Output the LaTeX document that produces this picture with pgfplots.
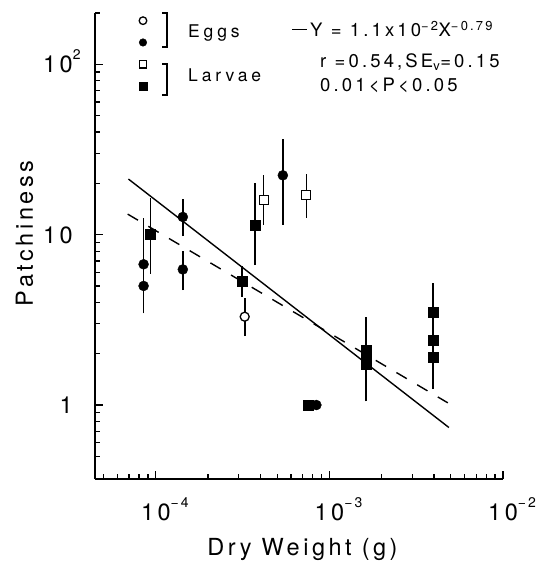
\documentclass[border=0pt]{standalone}
\usepackage{fontspec}
\setmainfont{TeX Gyre Heros}[LetterSpace=15]
\newfontfamily\legfont{TeX Gyre Heros}[LetterSpace=22]
\newfontfamily\eqfont{TeX Gyre Heros}[LetterSpace=17]
\usepackage{pgfplots}
\pgfplotsset{compat=1.18}

% "10" with a hanging superscript, so the base digits sit on the tick
\newcommand{\tenpow}[1]{10\rlap{\raisebox{13pt}{\fontsize{14}{14}\selectfont #1}}}

\begin{document}
\begin{tikzpicture}
\begin{axis}[
    name=ax,
    scale only axis, width=408pt, height=466pt,
    xmode=log, ymode=log,
    xmin=4.46e-5, xmax=1e-2, ymin=0.368, ymax=200,
    axis lines=left,
    axis line style={-, line width=1.3pt},
    tick align=inside,
    major tick length=8.5pt, minor tick length=5pt,
    tick style={black, line width=1.2pt},
    xtick={1e-4,1e-3,1e-2},
    xticklabels={\tenpow{−4},\tenpow{−3},\tenpow{−2}},
    ytick={1,10,100},
    yticklabels={1,10,\tenpow{2}},
    minor xtick={5e-5,6e-5,7e-5,8e-5,9e-5,2e-4,3e-4,4e-4,5e-4,6e-4,7e-4,8e-4,9e-4,2e-3,3e-3,4e-3,5e-3,6e-3,7e-3,8e-3,9e-3},
    minor ytick={0.5,0.6,0.7,0.8,0.9,2,3,4,5,6,7,8,9,20,30,40,50,60,70,80,90,200},
    tick label style={font=\fontsize{23.5}{28}\selectfont},
    xticklabel style={anchor=base, inner sep=0pt, yshift=-41pt},
    yticklabel style={anchor=base east, inner sep=0pt, xshift=-22pt, yshift=-8.5pt},
    xlabel={Dry Weight (g)}, ylabel={Patchiness},
    label style={font=\fontsize{23.5}{28}\selectfont},
    xlabel style={at={(axis description cs:0.5086,-0.1631)}, anchor=base, inner sep=0pt},
    ylabel style={at={(axis description cs:-0.152,0.5268)}, anchor=base, inner sep=0pt},
    clip=false,
    unbounded coords=jump,
    legend style={draw=none, fill=none, at={(axis description cs:0.1054,1.0069)},
        anchor=north west, inner sep=0pt, outer sep=0pt, row sep=0pt, column sep=0pt,
        nodes={inner sep=0pt, outer sep=0pt}},
    legend image code/.code={
        \path[draw=none, fill=none] (-5pt,-10.9pt) rectangle (5pt,10.9pt);
        \draw[#1, mark size=3.8pt] plot coordinates {(0pt,0pt)};},
]
% error bars
\addplot[black, line width=1.6pt, forget plot] coordinates {
    (8.5e-5,3.45) (8.5e-5,12.5) (8.5e-5,nan)
    (9.3e-5,5.9) (9.3e-5,16.4) (9.3e-5,nan)
    (1.43e-4,9.8) (1.43e-4,16.3) (1.43e-4,nan)
    (1.43e-4,4.72) (1.43e-4,8.03) (1.43e-4,nan)
    (3.14e-4,4.32) (3.14e-4,6.54) (3.14e-4,nan)
    (3.25e-4,2.54) (3.25e-4,4.23) (3.25e-4,nan)
    (3.73e-4,6.62) (3.73e-4,20.0) (3.73e-4,nan)
    (4.18e-4,11.4) (4.18e-4,22.3) (4.18e-4,nan)
    (5.39e-4,11.4) (5.39e-4,36.6) (5.39e-4,nan)
    (7.36e-4,12.6) (7.36e-4,22.6) (7.36e-4,nan)
    (1.62e-3,1.05) (1.62e-3,3.27) (1.62e-3,nan)
    (3.94e-3,1.24) (3.94e-3,5.21)
};
% regression lines
\addplot[black, line width=1.4pt, forget plot] coordinates {(6.95e-5,21.2) (4.88e-3,0.738)};
\addplot[black, line width=1.4pt, dash pattern=on 12pt off 12pt, forget plot] coordinates {(6.88e-5,13.2) (4.81e-3,1.03)};

% eggs
\addplot[only marks, mark=*, mark size=4.5pt, mark options={fill=white, draw=black, line width=1.3pt}]
    coordinates {(3.25e-4,3.30)};
\addlegendentry{\mbox{}}
\addplot[only marks, mark=*, mark size=5pt, black]
    coordinates {(8.5e-5,5.0) (8.5e-5,6.7) (1.43e-4,12.7) (1.43e-4,6.25) (5.39e-4,22.3) (8.41e-4,1.0)};
\addlegendentry{\mbox{}}
% larvae
\addplot[only marks, mark=square*, mark size=4.5pt, mark options={fill=white, draw=black, line width=1.3pt}]
    coordinates {(4.18e-4,15.9) (7.36e-4,17.1)};
\addlegendentry{\mbox{}}
\addplot[only marks, mark=square*, mark size=5pt, black]
    coordinates {(9.3e-5,10.07) (3.14e-4,5.33) (3.73e-4,11.4) (1.62e-3,2.11) (1.62e-3,1.9) (1.62e-3,1.73)
                 (3.94e-3,3.52) (3.94e-3,2.41) (3.94e-3,1.91) (7.5e-4,1.0)};
\addlegendentry{\mbox{}}
\end{axis}

\begin{scope}[shift={(ax.north west)}, x=1pt, y=1pt]
    \draw[line width=1.3pt] (67,0) -- (72,0) -- (72,-34) -- (67,-34);
    \draw[line width=1.3pt] (67,-51) -- (72,-51) -- (72,-82) -- (67,-82);
    \node[anchor=base west, inner sep=0pt, font=\legfont\fontsize{17.5}{20}\selectfont] at (93,-25) {Eggs};
    \node[anchor=base west, inner sep=0pt, font=\legfont\fontsize{17.5}{20}\selectfont] at (93,-69) {Larvae};
    \node[anchor=base west, inner sep=0pt, font=\eqfont\fontsize{18.5}{22}\selectfont] at (197,-24)
        {\rule[7pt]{15pt}{1.3pt}\hspace{3pt}Y = 1.1x10\textsuperscript{−2}X\textsuperscript{−0.79}};
    \node[anchor=base west, inner sep=0pt, font=\eqfont\fontsize{18.5}{22}\selectfont] at (225,-55)
        {r =0.54,SE\textsubscript{v}=0.15};
    \node[anchor=base west, inner sep=0pt, font=\eqfont\fontsize{18.5}{22}\selectfont] at (225,-79)
        {0.01<P<0.05};
    \pgfresetboundingbox
    \path[use as bounding box] (-95,13) rectangle (446,-551);
\end{scope}
\end{tikzpicture}
\end{document}
